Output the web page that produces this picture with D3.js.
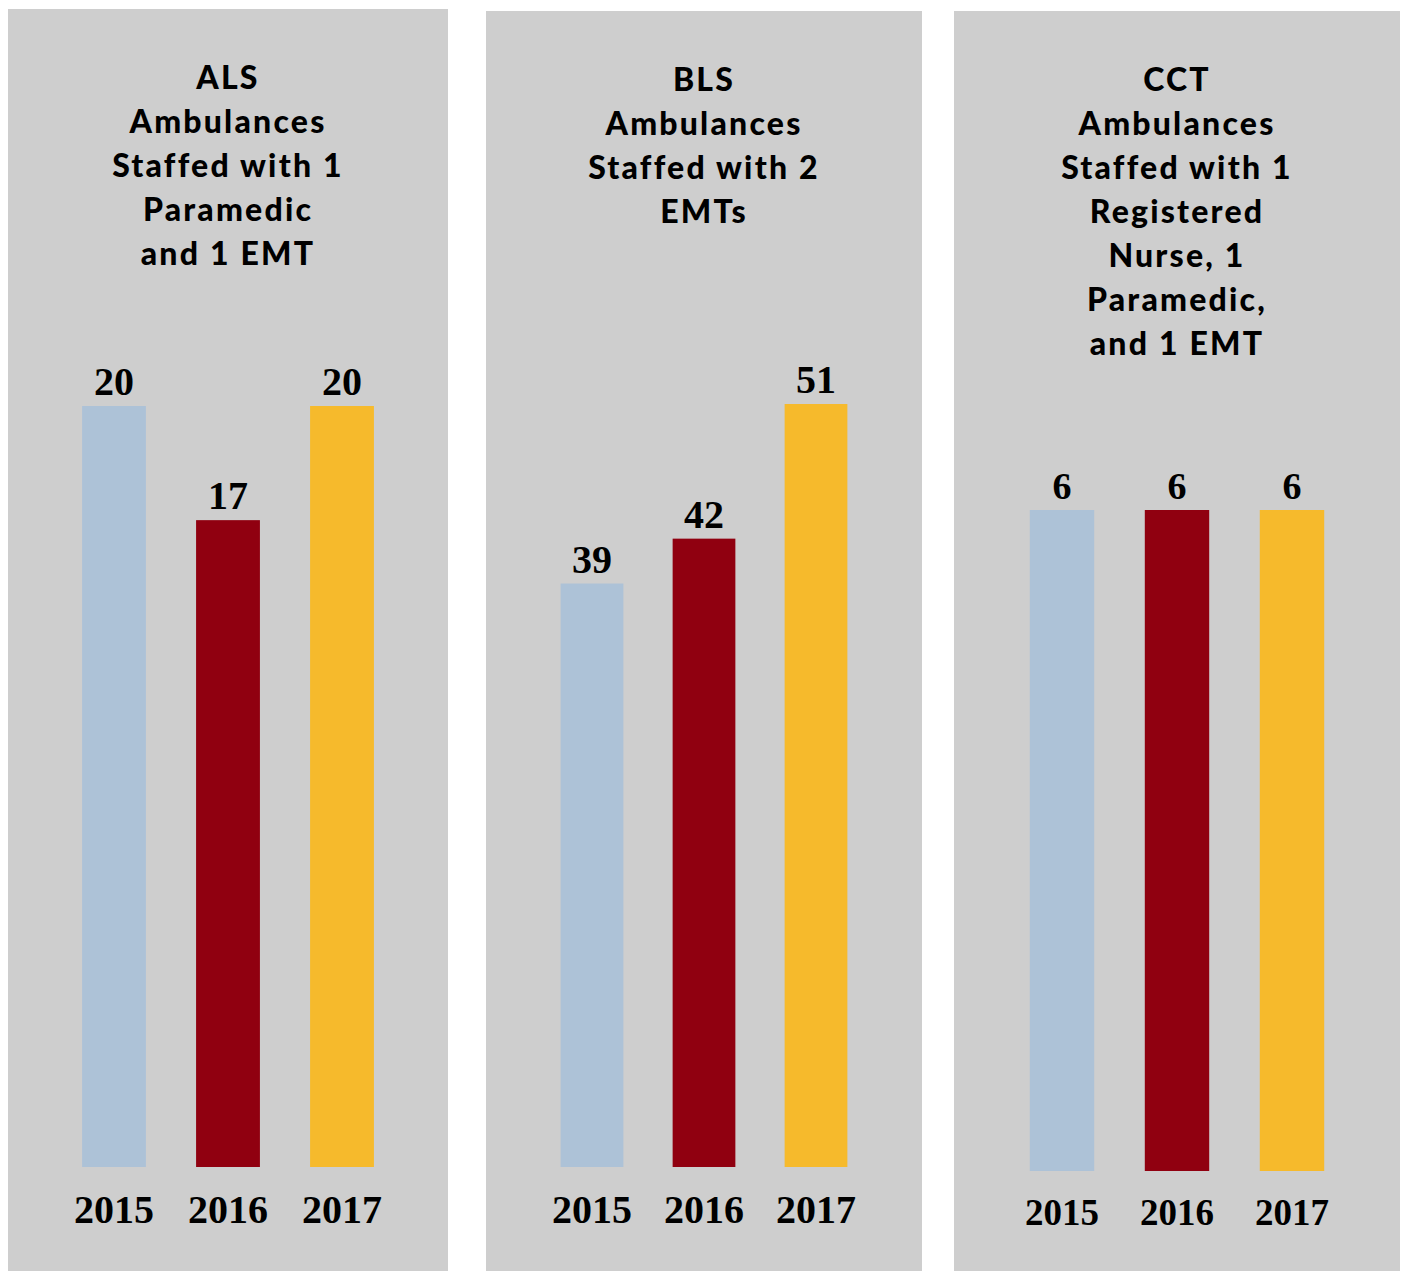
<!DOCTYPE html>
<html>
<head>
<meta charset="utf-8">
<script src="https://cdn.jsdelivr.net/npm/d3@7"></script>
<style>
  body { margin: 0; background: #fff; }
</style>
</head>
<body>
<div id="chart"></div>
<script>
// data
var years = ["2015", "2016", "2017"];
var alsValues = [20, 17, 20];
var blsValues = [39, 42, 51];
var cctValues = [6, 6, 6];
var alsTitle = ["ALS", "Ambulances", "Staffed with 1", "Paramedic", "and 1 EMT"];
var blsTitle = ["BLS", "Ambulances", "Staffed with 2", "EMTs"];
var cctTitle = ["CCT", "Ambulances", "Staffed with 1", "Registered", "Nurse, 1", "Paramedic,", "and 1 EMT"];
var colors = ["#adc2d7", "#900010", "#f6ba2c"];

var width = 1405, height = 1271;

// panel layout
var panels = [
  {title: alsTitle, values: alsValues, left: 8, right: 448, top: 9, step: 114, base: 1167, maxY: 406, valSize: 40, yearSize: 40, yearY: 1223, titleY: 89},
  {title: blsTitle, values: blsValues, left: 486, right: 922, top: 11, step: 112, base: 1167, maxY: 404, valSize: 40, yearSize: 40, yearY: 1223, titleY: 91},
  {title: cctTitle, values: cctValues, left: 954, right: 1400, top: 11, step: 115, base: 1171, maxY: 510, valSize: 38, yearSize: 37, yearY: 1225, titleY: 91}
];

var svg = d3.select("#chart")
    .append("svg")
    .attr("width", width)
    .attr("height", height);

panels.forEach(function(p) {
    var g = svg.append("g");
    var cx = (p.left + p.right) / 2;

    // background
    g.append("rect")
        .attr("x", p.left)
        .attr("y", p.top)
        .attr("width", p.right - p.left)
        .attr("height", height - p.top)
        .attr("fill", "#cecece");

    // title
    g.append("g").selectAll("text")
        .data(p.title)
        .join("text")
        .attr("x", cx)
        .attr("y", (d, i) => p.titleY + i * 44)
        .attr("text-anchor", "middle")
        .style("font-family", "Lato, sans-serif")
        .style("font-weight", "900")
        .style("font-size", "32px")
        .style("letter-spacing", "2.2px")
        .style("fill", "#000")
        .text(d => d);

    var x = d3.scaleBand()
        .domain(years)
        .range([cx - 1.5 * p.step, cx + 1.5 * p.step])
        .paddingInner(0.44)
        .paddingOuter(0.22);

    var y = d3.scaleLinear()
        .domain([0, d3.max(p.values)])
        .range([p.base, p.maxY]);

    var rows = years.map((yr, i) => ({year: yr, value: p.values[i], color: colors[i]}));

    g.selectAll("rect.bar")
        .data(rows)
        .join("rect")
        .attr("class", "bar")
        .attr("x", d => x(d.year))
        .attr("y", d => y(d.value))
        .attr("width", x.bandwidth())
        .attr("height", d => p.base - y(d.value))
        .attr("fill", d => d.color);

    // value labels
    g.selectAll("text.val")
        .data(rows)
        .join("text")
        .attr("class", "val")
        .attr("x", d => x(d.year) + x.bandwidth() / 2)
        .attr("y", d => y(d.value) - 11)
        .attr("text-anchor", "middle")
        .style("font-family", "'Liberation Serif', 'Times New Roman', serif")
        .style("font-weight", "700")
        .style("font-size", p.valSize + "px")
        .text(d => d.value);

    // year labels (axis without line/ticks)
    var axis = g.append("g")
        .attr("transform", "translate(0," + p.yearY + ")")
        .call(d3.axisBottom(x).tickSize(0).tickPadding(0));
    axis.select(".domain").remove();
    axis.selectAll("text")
        .attr("y", 0)
        .attr("dy", 0)
        .style("font-family", "'Liberation Serif', 'Times New Roman', serif")
        .style("font-weight", "700")
        .style("font-size", p.yearSize + "px")
        .style("fill", "#000");
});
</script>
</body>
</html>
